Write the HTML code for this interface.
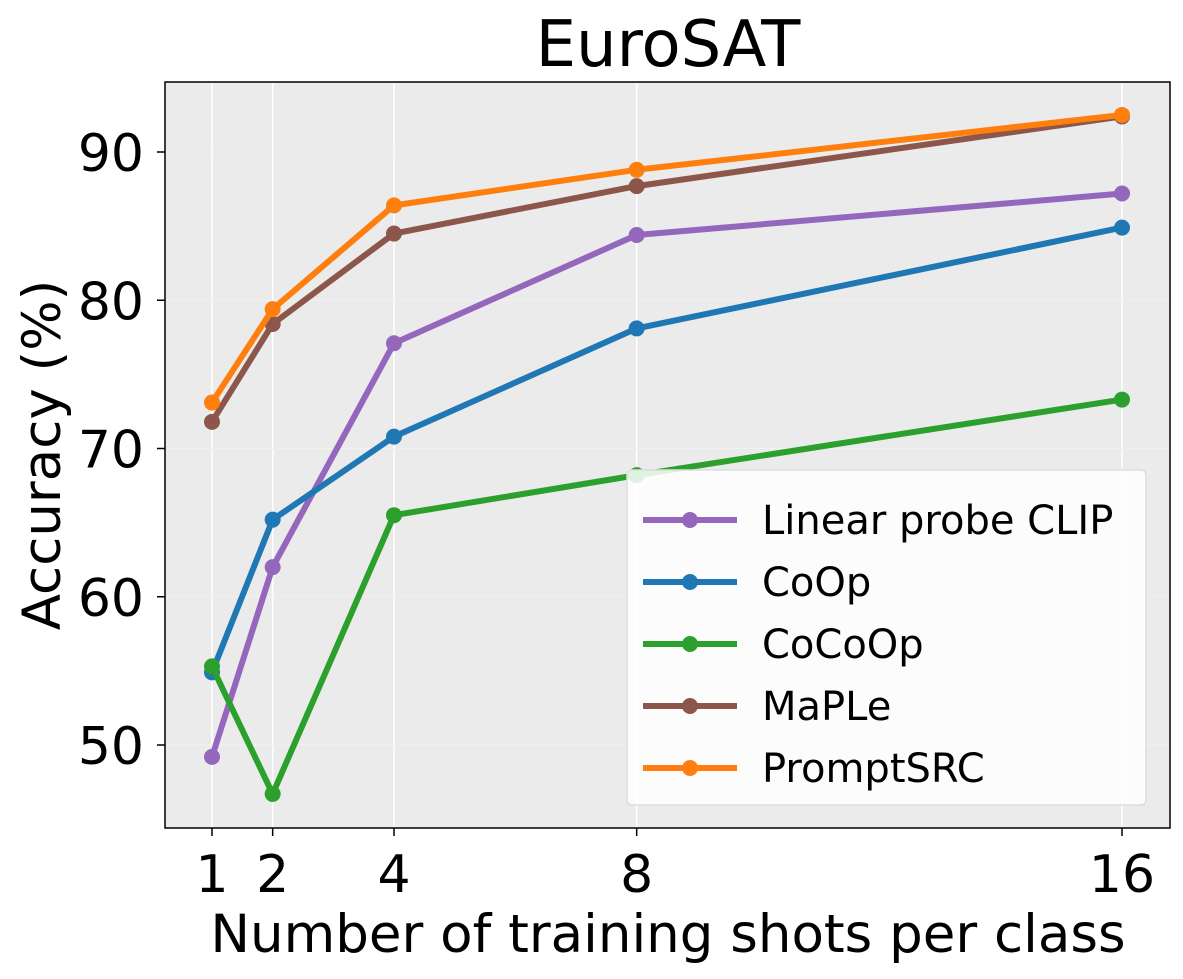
<!DOCTYPE html>
<html><head><meta charset="utf-8"><style>
body{margin:0;background:#fff;}
svg{display:block;font-family:"DejaVu Sans","Liberation Sans",sans-serif;}
</style></head><body>
<svg id="chart" width="1183" height="979">
<rect x="165" y="82" width="1005" height="746" fill="#ebebeb" stroke="#000" stroke-width="1.5"/>
<g id="grid"></g><g id="series"></g><g id="axes"></g>
<text x="668" y="66" font-size="64" text-anchor="middle">EuroSAT</text>
<text x="668" y="952" font-size="53" text-anchor="middle">Number of training shots per class</text>
<text transform="translate(60,455) rotate(-90)" font-size="53" text-anchor="middle">Accuracy (%)</text>
<g id="legend"></g>
</svg>
<script>
const shots=[1,2,4,8,16];
const yTicks=[50,60,70,80,90];
const names=["Linear probe CLIP","CoOp","CoCoOp","MaPLe","PromptSRC"];
const colors=["#9467bd","#1f77b4","#2ca02c","#8c564b","#ff7f0e"];
const linearProbe=[49.2,62.0,77.1,84.4,87.2];
const coop=[54.9,65.2,70.8,78.1,84.9];
const cocoop=[55.3,46.7,65.5,68.2,73.3];
const maple=[71.8,78.4,84.5,87.7,92.4];
const promptsrc=[73.1,79.4,86.4,88.8,92.5];
const allSeries=[linearProbe,coop,cocoop,maple,promptsrc];
const NS="http://www.w3.org/2000/svg";
function X(v){return 212+(v-1)*(910/15);}
function Y(v){return 745-(v-50)*14.825;}
function mk(t,a,p){const e=document.createElementNS(NS,t);for(const k in a)e.setAttribute(k,a[k]);p.appendChild(e);return e;}
const grid=document.getElementById('grid'),axes=document.getElementById('axes'),ser=document.getElementById('series'),leg=document.getElementById('legend');
shots.forEach(s=>{
 const l=mk('line',{x1:X(s),x2:X(s),y1:83,y2:827,stroke:'#fff','stroke-width':1.5},grid);
 
 
 const t=mk('line',{x1:X(s),x2:X(s),y1:828,y2:836,stroke:'#000','stroke-width':1.5},axes);
 
 
 const tx=mk('text',{x:X(s),y:892,'font-size':52,'text-anchor':'middle'},axes);tx.textContent=s;
 
 
});
yTicks.forEach(v=>{
 const l=mk('line',{x1:166,x2:1169,y1:Y(v),y2:Y(v),stroke:'#f2f2f2','stroke-width':1},grid);
 
 
 const t=mk('line',{x1:157,x2:165,y1:Y(v),y2:Y(v),stroke:'#000','stroke-width':1.5},axes);
 
 
 const tx=mk('text',{x:144,y:Y(v)+19,'font-size':52,'text-anchor':'end'},axes);tx.textContent=v;
 
 
});
allSeries.forEach((d,i)=>{
 const g=mk('g',{},ser);
 
 
 const pl=mk('polyline',{points:d.map((v,j)=>X(shots[j])+','+Y(v)).join(' '),fill:'none',stroke:colors[i],'stroke-width':6,'stroke-linejoin':'round'},g);
 
 
 d.forEach((v,j)=>{const c=mk('circle',{cx:X(shots[j]),cy:Y(v),r:8,fill:colors[i]},g);
  
  });
});
const box=mk('rect',{x:627,y:470,width:519,height:335,rx:5,fill:'#fff','fill-opacity':0.85,stroke:'#ddd','stroke-width':1.5},leg);


names.forEach((n,i)=>{
 const y=520+i*62;
 const g=mk('g',{},leg);
 
 
 mk('line',{x1:643,x2:737,y1:y,y2:y,stroke:colors[i],'stroke-width':6},g);
 mk('circle',{cx:690,cy:y,r:8,fill:colors[i]},g);
 const t=mk('text',{x:762,y:y+14,'font-size':40},g);t.textContent=n;
});
</script>
</body></html>
